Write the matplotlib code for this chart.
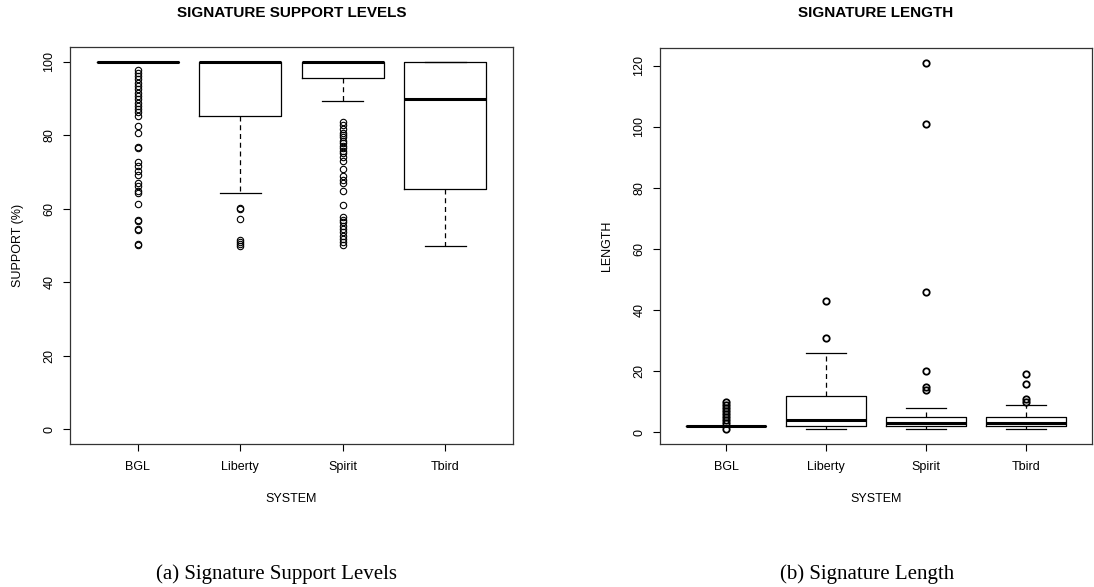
import matplotlib
matplotlib.use("Agg")
import matplotlib.pyplot as plt

plt.rcParams["font.family"] = ["Liberation Sans", "DejaVu Sans"]

SYSTEMS = ["BGL", "Liberty", "Spirit", "Tbird"]

# support (%) box stats per system
sup_med = [100, 100, 100, 89.8]
sup_q1 = [100, 85.1, 95.5, 65.5]
sup_q3 = [100, 100, 100, 100]
sup_wlo = [100, 64.4, 89.4, 50.0]
sup_whi = [100, 100, 100, 100]
sup_out = [
    [97.7, 97.0, 96.1, 95.2, 94.3, 93.4, 92.5, 91.6, 90.7, 89.8, 88.9, 88.0,
     87.1, 86.2, 85.1, 82.5, 80.5, 76.7, 76.5, 72.8, 71.7, 70.3, 69.1, 66.9,
     66.2, 64.9, 64.3, 61.3, 57.0, 56.8, 54.5, 54.3, 50.4, 50.2],
    [60.2, 60.0, 57.1, 51.5, 51.0, 50.5, 50.0],
    [83.6, 82.7, 81.6, 80.7, 80.0, 79.4, 78.5, 77.8, 77.1, 76.4, 75.7, 75.1,
     74.1, 72.9, 70.8, 68.8, 67.9, 66.9, 64.9, 61.1, 57.7, 57.0, 56.3, 55.4,
     54.5, 53.6, 52.7, 51.8, 50.9, 50.1],
    [],
]

# signature length box stats per system
len_med = [2, 4, 3, 3]
len_q1 = [2, 2, 2, 2]
len_q3 = [2, 12, 5, 5]
len_wlo = [2, 1, 1, 1]
len_whi = [2, 26, 8, 9]
len_out = [
    [1, 3, 4, 5, 6, 7, 8, 9, 10],
    [31, 43],
    [14, 15, 20, 46, 101, 121],
    [10, 11, 16, 19],
]

W, H = 1094, 587


def stats(med, q1, q3, wlo, whi, out):
    return [dict(med=m, q1=a, q3=b, whislo=lo, whishi=hi, fliers=f, label=s)
            for m, a, b, lo, hi, f, s in zip(med, q1, q3, wlo, whi, out, SYSTEMS)]


def draw(ax, st, yticks, ylim, mew):
    ax.bxp(st, positions=[1, 2, 3, 4], widths=0.8, showfliers=True,
           boxprops=dict(color="black", lw=0.9),
           medianprops=dict(color="black", lw=2.2, solid_capstyle="butt"),
           whiskerprops=dict(color="black", lw=0.9, dashes=(4, 3)),
           capprops=dict(color="black", lw=0.9),
           capwidths=0.4,
           flierprops=dict(marker="o", markerfacecolor="none",
                           markeredgecolor="black", markersize=4.6, markeredgewidth=mew))
    ax.set_xlim(0.34, 4.66)
    ax.set_ylim(*ylim)
    ax.set_yticks(yticks)
    ax.set_yticklabels([str(v) for v in yticks], rotation=90, va="center")
    ax.tick_params(axis="both", direction="out", length=5, width=0.8,
                   labelsize=9, color="black")
    ax.tick_params(axis="x", pad=7)
    ax.tick_params(axis="y", pad=5.5)
    for s in ax.spines.values():
        s.set_linewidth(0.9)
        s.set_color("#333333")


fig = plt.figure(figsize=(W / 100, H / 100), dpi=100)
ax1 = fig.add_axes([70 / W, 1 - 444 / H, 443 / W, 397 / H])
ax2 = fig.add_axes([660 / W, 1 - 444 / H, 432 / W, 396 / H])

draw(ax1, stats(sup_med, sup_q1, sup_q3, sup_wlo, sup_whi, sup_out),
     [0, 20, 40, 60, 80, 100], (-4, 104), 0.8)
draw(ax2, stats(len_med, len_q1, len_q3, len_wlo, len_whi, len_out),
     [0, 20, 40, 60, 80, 100, 120], (-3.8, 125.8), 1.3)

fig.text(291.5 / W, 1 - 17.3 / H, "SIGNATURE SUPPORT LEVELS", ha="center",
         va="baseline", fontsize=11, fontweight="bold")
fig.text(876 / W, 1 - 17.3 / H, "SIGNATURE LENGTH", ha="center",
         va="baseline", fontsize=11, fontweight="bold")

fig.text(18 / W, 1 - 245.5 / H, "SUPPORT (%)", rotation=90, ha="center", va="center", fontsize=9)
fig.text(607 / W, 1 - 245.5 / H, "LENGTH", rotation=90, ha="center", va="center", fontsize=9)
fig.text(291.5 / W, 1 - 499 / H, "SYSTEM", ha="center", va="center", fontsize=9)
fig.text(876 / W, 1 - 499 / H, "SYSTEM", ha="center", va="center", fontsize=9)

fig.text(277 / W, 1 - 579 / H, "(a) Signature Support Levels", ha="center",
         va="baseline", fontsize=15, family=["Liberation Serif", "DejaVu Serif"])
fig.text(867 / W, 1 - 579 / H, "(b) Signature Length", ha="center",
         va="baseline", fontsize=15, family=["Liberation Serif", "DejaVu Serif"])

fig.savefig("out.png", dpi=100)
